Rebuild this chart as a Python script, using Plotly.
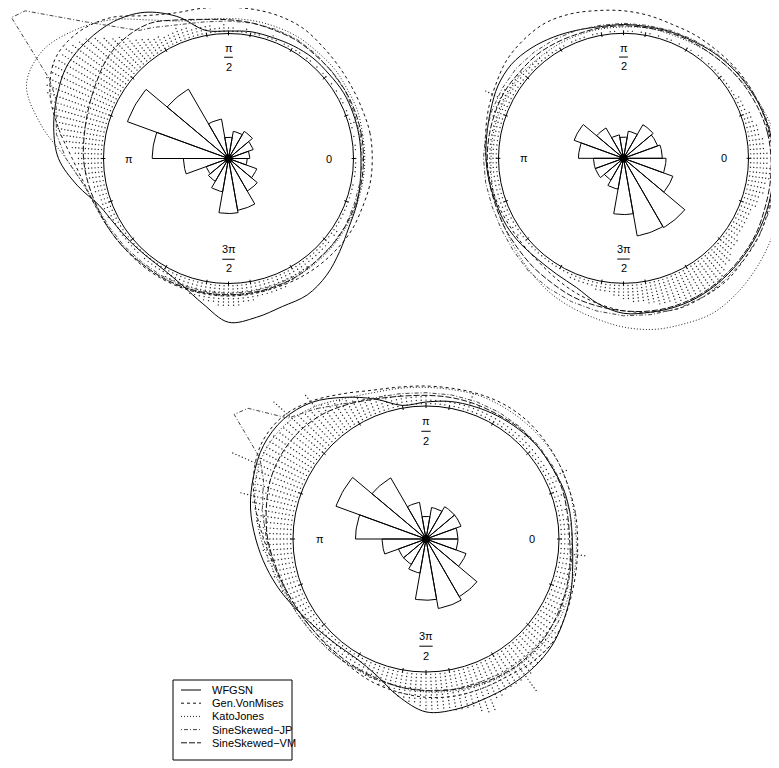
import numpy as np
import plotly.graph_objects as go

W, H = 779, 768
PAGE_OFF = 8   # browser body margin: the figure is drawn 8 px from the page corner
FONT = "Liberation Sans, Arial, Helvetica, sans-serif"

# ---------------- data ----------------
ANG10 = list(range(0, 360, 10))          # density grid (deg)
ANG2 = list(range(0, 360, 2))            # stacked-point bins (deg)
ROSE_START = list(range(0, 360, 20))     # rose bins (deg)
ROSE_W = 20
TICK_DEG = list(range(0, 360, 20)) + [90, 270]
STACK_STEP = 0.026

MODELS = ["WFGSN", "Gen.VonMises", "KatoJones", "SineSkewed\u2212JP", "SineSkewed\u2212VM"]

# ---- panel 1 ----
p1_rose = [0.17, 0.21, 0.25, 0.22, 0.17, 0.32, 0.64, 0.86, 0.61,
           0.36, 0.19, 0.21, 0.27, 0.44, 0.42, 0.30, 0.24, 0.15]
p1_wfgsn = [1.06, 1.06, 1.06, 1.06, 1.05, 1.05, 1.04, 1.03, 1.03, 1.02, 1.04, 1.21,
            1.35, 1.43, 1.47, 1.49, 1.46, 1.42, 1.36, 1.23, 1.10, 1.05, 1.03, 1.02,
            1.03, 1.08, 1.18, 1.31, 1.29, 1.26, 1.26, 1.22, 1.16, 1.11, 1.09, 1.07]
p1_gvm = [1.15, 1.15, 1.14, 1.14, 1.15, 1.17, 1.20, 1.21, 1.21, 1.21, 1.22, 1.24,
          1.32, 1.47, 1.57, 1.60, 1.52, 1.38, 1.25, 1.17, 1.13, 1.11, 1.10, 1.10,
          1.10, 1.10, 1.10, 1.10, 1.10, 1.10, 1.11, 1.12, 1.13, 1.14, 1.14, 1.15]
p1_kj = [1.09, 1.09, 1.10, 1.10, 1.11, 1.11, 1.12, 1.12, 1.12, 1.12, 1.13, 1.17,
         1.28, 1.45, 1.60, 1.72, 1.72, 1.52, 1.30, 1.18, 1.13, 1.11, 1.10, 1.09,
         1.09, 1.09, 1.09, 1.09, 1.09, 1.09, 1.09, 1.09, 1.09, 1.09, 1.09, 1.09]
p1_ssjp_ang = [0, 10, 20, 30, 40, 50, 60, 70, 80, 90, 100, 110, 120, 125, 136, 144, 147,
               156, 161, 172, 180, 190, 200, 210, 220, 230, 240, 250, 260, 270, 280,
               290, 300, 310, 320, 330, 340, 350]
p1_ssjp = [1.07, 1.07, 1.07, 1.08, 1.08, 1.09, 1.10, 1.10, 1.10, 1.10, 1.11, 1.14,
           1.21, 1.25, 1.57, 2.01, 2.07, 1.57, 1.46, 1.39, 1.30, 1.18, 1.12, 1.10,
           1.09, 1.08, 1.08, 1.08, 1.08, 1.08, 1.08, 1.08, 1.08, 1.08, 1.08, 1.08,
           1.07, 1.07]
p1_ssvm = [1.08, 1.08, 1.08, 1.08, 1.08, 1.08, 1.09, 1.09, 1.10, 1.11, 1.13, 1.18,
           1.25, 1.27, 1.26, 1.22, 1.19, 1.17, 1.16, 1.14, 1.12, 1.11, 1.10, 1.09,
           1.09, 1.09, 1.09, 1.09, 1.09, 1.09, 1.09, 1.08, 1.08, 1.08, 1.08, 1.08]
p1_stack = [1, 0, 1, 1, 0, 1, 0, 1, 2, 1,   0, 1, 0, 1, 1, 0, 1, 0, 1, 0,
            1, 1, 0, 1, 0, 1, 1, 0, 1, 1,   0, 1, 1, 0, 1, 2, 1, 0, 1, 1,
            1, 2, 1, 1, 2, 2, 3, 2, 2, 3,   3, 3, 4, 3, 4, 4, 5, 4, 4, 4,
            5, 5, 6, 7, 8, 10, 12, 13, 15, 17,   19, 20, 21, 22, 22, 22, 23, 22, 23, 22,
            21, 19, 18, 17, 16, 15, 14, 12, 10, 9,   8, 8, 7, 6, 5, 4, 4, 4, 3, 3,
            3, 3, 2, 3, 2, 2, 2, 2, 2, 2,   2, 2, 2, 2, 1, 2, 2, 2, 2, 2,
            2, 3, 3, 3, 4, 4, 4, 5, 5, 5,   6, 6, 6, 7, 7, 7, 7, 7, 6, 6,
            6, 5, 5, 5, 5, 5, 5, 5, 4, 4,   3, 3, 3, 3, 2, 2, 2, 2, 2, 2,
            2, 1, 2, 2, 1, 1, 1, 1, 1, 1,   1, 1, 1, 1, 1, 0, 1, 1, 1, 1]

# ---- panel 2 ----
p2_rose = [0.31, 0.29, 0.31, 0.22, 0.17, 0.19, 0.28, 0.42, 0.36,
           0.24, 0.24, 0.20, 0.25, 0.45, 0.63, 0.64, 0.42, 0.34]
p2_wfgsn = [1.20, 1.19, 1.17, 1.15, 1.13, 1.11, 1.09, 1.08, 1.07, 1.07, 1.07, 1.09,
            1.12, 1.15, 1.17, 1.16, 1.13, 1.11, 1.10, 1.09, 1.08, 1.08, 1.07, 1.06,
            1.07, 1.10, 1.18, 1.24, 1.25, 1.26, 1.26, 1.25, 1.24, 1.23, 1.22, 1.21]
p2_gvm = [1.20, 1.18, 1.17, 1.16, 1.15, 1.14, 1.14, 1.14, 1.16, 1.18, 1.20, 1.23,
          1.25, 1.24, 1.22, 1.18, 1.15, 1.12, 1.10, 1.08, 1.07, 1.06, 1.06, 1.07,
          1.10, 1.14, 1.18, 1.22, 1.25, 1.28, 1.28, 1.28, 1.26, 1.25, 1.23, 1.21]
p2_kj = [1.26, 1.22, 1.18, 1.14, 1.11, 1.09, 1.07, 1.06, 1.06, 1.05, 1.05, 1.05,
         1.05, 1.05, 1.06, 1.06, 1.06, 1.06, 1.06, 1.07, 1.08, 1.10, 1.13, 1.17,
         1.22, 1.26, 1.30, 1.35, 1.39, 1.41, 1.43, 1.41, 1.38, 1.35, 1.32, 1.29]
p2_ssjp_ang = list(ANG10)
p2_ssjp = [1.22, 1.20, 1.18, 1.16, 1.14, 1.12, 1.10, 1.09, 1.08, 1.08, 1.08, 1.09,
           1.10, 1.11, 1.12, 1.12, 1.12, 1.12, 1.12, 1.12, 1.12, 1.13, 1.15, 1.18,
           1.20, 1.22, 1.24, 1.26, 1.27, 1.28, 1.28, 1.27, 1.26, 1.25, 1.24, 1.23]
p2_ssvm = [1.18, 1.17, 1.15, 1.13, 1.11, 1.09, 1.08, 1.07, 1.06, 1.06, 1.06, 1.06,
           1.07, 1.08, 1.08, 1.09, 1.09, 1.09, 1.09, 1.09, 1.09, 1.10, 1.11, 1.13,
           1.15, 1.18, 1.20, 1.22, 1.24, 1.25, 1.25, 1.24, 1.23, 1.22, 1.20, 1.19]
p2_stack = [6, 6, 5, 5, 5, 4, 4, 4, 3, 3,   3, 2, 2, 2, 2, 1, 1, 1, 1, 1,
            1, 1, 1, 1, 1, 0, 1, 1, 0, 1,   1, 0, 1, 0, 1, 1, 0, 1, 0, 1,
            1, 1, 0, 1, 1, 1, 0, 1, 1, 0,   1, 1, 1, 0, 1, 1, 1, 1, 0, 1,
            1, 1, 1, 2, 1, 2, 2, 2, 2, 2,   3, 3, 3, 3, 3, 4, 4, 9, 4, 4,
            4, 4, 3, 3, 3, 3, 3, 3, 3, 3,   3, 3, 3, 3, 2, 3, 2, 2, 2, 2,
            2, 2, 2, 2, 2, 1, 2, 1, 2, 1,   1, 1, 1, 1, 1, 1, 1, 1, 1, 1,
            1, 1, 1, 2, 2, 2, 2, 2, 2, 3,   3, 3, 3, 4, 4, 5, 5, 6, 6, 6,
            7, 7, 8, 8, 8, 9, 9, 9, 10, 10,   10, 11, 11, 11, 10, 9, 8, 7, 7, 6,
            5, 5, 5, 4, 4, 4, 4, 4, 4, 4,   5, 5, 5, 6, 6, 6, 7, 7, 7, 6]

# ---- panel 3 ----
p3_rose = [0.24, 0.28, 0.28, 0.24, 0.17, 0.28, 0.53, 0.72, 0.53,
           0.33, 0.22, 0.22, 0.26, 0.46, 0.53, 0.50, 0.32, 0.24]
p3_wfgsn = [1.10, 1.10, 1.10, 1.09, 1.09, 1.08, 1.07, 1.06, 1.05, 1.03, 1.02, 1.12,
            1.23, 1.34, 1.40, 1.41, 1.38, 1.34, 1.28, 1.22, 1.16, 1.10, 1.06, 1.04,
            1.04, 1.09, 1.20, 1.30, 1.30, 1.28, 1.27, 1.26, 1.24, 1.20, 1.16, 1.12]
p3_gvm = [1.14, 1.14, 1.14, 1.15, 1.16, 1.17, 1.17, 1.16, 1.15, 1.15, 1.16, 1.19,
          1.26, 1.35, 1.42, 1.43, 1.38, 1.30, 1.22, 1.16, 1.12, 1.10, 1.09, 1.10,
          1.12, 1.15, 1.17, 1.19, 1.20, 1.20, 1.20, 1.22, 1.23, 1.20, 1.17, 1.15]
p3_kj = [1.13, 1.13, 1.14, 1.15, 1.15, 1.15, 1.15, 1.15, 1.14, 1.14, 1.15, 1.17,
         1.22, 1.30, 1.36, 1.38, 1.36, 1.30, 1.24, 1.18, 1.14, 1.12, 1.11, 1.11,
         1.11, 1.12, 1.13, 1.15, 1.16, 1.17, 1.18, 1.18, 1.18, 1.17, 1.15, 1.14]
p3_ssjp_ang = [0, 10, 20, 30, 40, 50, 60, 70, 80, 90, 100, 110, 120, 130,
               138.8, 143.7, 147, 151.9, 154,
               160, 170, 180, 190, 200, 210, 220, 230, 240, 250, 260, 270, 280, 290,
               300, 310, 320, 330, 340, 350]
p3_ssjp = [1.10, 1.10, 1.10, 1.10, 1.10, 1.10, 1.10, 1.10, 1.10, 1.10, 1.11, 1.13, 1.18, 1.28,
           1.38, 1.66, 1.72, 1.47, 1.39,
           1.30, 1.25, 1.20, 1.16, 1.13, 1.12, 1.11, 1.11, 1.11, 1.12, 1.13, 1.14, 1.15, 1.15,
           1.16, 1.16, 1.16, 1.15, 1.13, 1.11]
p3_ssvm = [1.08, 1.08, 1.09, 1.09, 1.09, 1.09, 1.08, 1.08, 1.08, 1.08, 1.09, 1.12,
           1.17, 1.22, 1.25, 1.26, 1.25, 1.22, 1.19, 1.15, 1.12, 1.10, 1.09, 1.09,
           1.10, 1.11, 1.13, 1.14, 1.15, 1.16, 1.17, 1.17, 1.16, 1.14, 1.12, 1.10]
p3_stack = [4, 5, 3, 3, 3, 2, 3, 2, 2, 3,   2, 2, 3, 7, 2, 2, 2, 2, 2, 2,
            2, 2, 2, 3, 2, 2, 2, 2, 2, 2,   2, 2, 2, 2, 3, 2, 6, 2, 2, 2,
            2, 2, 2, 2, 2, 3, 3, 3, 3, 3,   4, 4, 4, 5, 5, 5, 6, 6, 7, 7,
            8, 9, 9, 10, 11, 16, 12, 12, 13, 21,   14, 14, 14, 15, 15, 15, 15, 15, 23, 14,
            14, 13, 13, 17, 13, 12, 11, 11, 10, 10,   9, 9, 9, 8, 8, 7, 7, 7, 6, 6,
            6, 5, 5, 5, 4, 4, 4, 4, 3, 3,   3, 3, 3, 3, 3, 3, 3, 3, 3, 3,
            4, 4, 4, 5, 5, 5, 6, 6, 6, 7,   8, 8, 9, 9, 10, 11, 11, 11, 11, 11,
            12, 12, 12, 12, 14, 15, 15, 12, 12, 11,   11, 11, 11, 16, 11, 10, 10, 10, 9, 9,
            9, 8, 8, 7, 7, 6, 6, 6, 5, 5,   4, 4, 4, 4, 4, 4, 4, 8, 4, 4]

# ---------------- styles ----------------
STYLE = {
    "WFGSN": dict(dash="solid", color="#000000", shape="spline"),
    "Gen.VonMises": dict(dash="3px,3px", color="#111111", shape="spline"),
    "KatoJones": dict(dash="1px,2px", color="#222222", shape="spline"),
    "SineSkewed\u2212JP": dict(dash="1px,2px,4px,2px", color="#444444", shape="linear"),
    "SineSkewed\u2212VM": dict(dash="6px,2px", color="#111111", shape="spline"),
}

# panel centres / radii in screenshot pixels
PANELS = [
    dict(cx=228.5, cy=158.5, R=125.0, rose=p1_rose, stack=p1_stack,
         curves=[(ANG10, p1_wfgsn), (ANG10, p1_gvm), (ANG10, p1_kj),
                 (p1_ssjp_ang, p1_ssjp), (ANG10, p1_ssvm)]),
    dict(cx=623.5, cy=158.3, R=125.0, rose=p2_rose, stack=p2_stack,
         curves=[(ANG10, p2_wfgsn), (ANG10, p2_gvm), (ANG10, p2_kj),
                 (p2_ssjp_ang, p2_ssjp), (ANG10, p2_ssvm)]),
    dict(cx=426.0, cy=539.0, R=133.0, rose=p3_rose, stack=p3_stack,
         curves=[(ANG10, p3_wfgsn), (ANG10, p3_gvm), (ANG10, p3_kj),
                 (p3_ssjp_ang, p3_ssjp), (ANG10, p3_ssvm)]),
]

fig = go.Figure()
shapes = []
annotations = []
layout_axes = {}

for k, P in enumerate(PANELS, start=1):
    xs = "x" if k == 1 else f"x{k}"
    ys = "y" if k == 1 else f"y{k}"
    xname = "xaxis" if k == 1 else f"xaxis{k}"
    yname = "yaxis" if k == 1 else f"yaxis{k}"
    cx, cy, R = P["cx"] - PAGE_OFF, P["cy"] - PAGE_OFF, P["R"]
    xax = dict(range=[-cx / R, (W - cx) / R], domain=[0, 1], visible=False,
               fixedrange=True, anchor=ys)
    yax = dict(range=[-(H - cy) / R, cy / R], domain=[0, 1], visible=False,
               fixedrange=True, anchor=xs)
    if k > 1:
        xax["overlaying"] = "x"
        yax["overlaying"] = "y"
    layout_axes[xname] = xax
    layout_axes[yname] = yax

    # unit circle
    shapes.append(dict(type="circle", xref=xs, yref=ys, x0=-1, y0=-1, x1=1, y1=1,
                       line=dict(color="black", width=1), layer="above"))

    # ticks
    tx, ty = [], []
    for d in TICK_DEG:
        t = np.radians(d)
        tx += [0.985 * np.cos(t), 1.02 * np.cos(t), None]
        ty += [0.985 * np.sin(t), 1.02 * np.sin(t), None]
    fig.add_trace(go.Scatter(x=tx, y=ty, xaxis=xs, yaxis=ys, mode="lines",
                             line=dict(color="black", width=1), hoverinfo="skip",
                             showlegend=False))

    # stacked points
    px_, py_ = [], []
    for d, c in zip(ANG2, P["stack"]):
        t = np.radians(d)
        for j in range(1, c + 1):
            r = 1 + STACK_STEP * (j - 0.3)
            px_.append(r * np.cos(t))
            py_.append(r * np.sin(t))
    fig.add_trace(go.Scatter(x=px_, y=py_, xaxis=xs, yaxis=ys, mode="markers",
                             marker=dict(size=1.4, color="#222222", line=dict(width=0)),
                             hoverinfo="skip", showlegend=False))

    # density curves
    for name, (angs, rads) in zip(MODELS, P["curves"]):
        a = np.radians(list(angs) + [angs[0] + 360])
        r = np.array(list(rads) + [rads[0]])
        st = STYLE[name]
        fig.add_trace(go.Scatter(x=r * np.cos(a), y=r * np.sin(a), xaxis=xs, yaxis=ys,
                                 mode="lines", name=name,
                                 line=dict(color=st["color"], width=1, dash=st["dash"],
                                           shape=st["shape"], smoothing=1.0),
                                 hoverinfo="skip", showlegend=False))

    # rose diagram
    rx, ry = [], []
    for s, rr in zip(ROSE_START, P["rose"]):
        arc = np.radians(np.linspace(s, s + ROSE_W, 12))
        rx += [0.0] + list(rr * np.cos(arc)) + [0.0, None]
        ry += [0.0] + list(rr * np.sin(arc)) + [0.0, None]
    fig.add_trace(go.Scatter(x=rx, y=ry, xaxis=xs, yaxis=ys, mode="lines",
                             line=dict(color="black", width=1), hoverinfo="skip",
                             showlegend=False))
    fig.add_trace(go.Scatter(x=[0], y=[0], xaxis=xs, yaxis=ys, mode="markers",
                             marker=dict(size=8, color="black"), hoverinfo="skip",
                             showlegend=False))

    # axis labels
    lab = dict(xref=xs, yref=ys, showarrow=False, font=dict(family=FONT, size=11, color="black"),
               xanchor="center", yanchor="middle")
    annotations.append(dict(lab, x=0.80, y=0, text="0"))
    annotations.append(dict(lab, x=-0.80, y=0, text="\u03c0"))
    annotations.append(dict(lab, x=0, y=0.885, text="\u03c0"))
    annotations.append(dict(lab, x=0, y=0.735, text="2"))
    annotations.append(dict(lab, x=0, y=-0.726, text="3\u03c0"))
    annotations.append(dict(lab, x=0, y=-0.878, text="2"))
    shapes.append(dict(type="line", xref=xs, yref=ys, x0=-0.035, x1=0.035, y0=0.81, y1=0.81,
                       line=dict(color="black", width=1)))
    shapes.append(dict(type="line", xref=xs, yref=ys, x0=-0.05, x1=0.05, y0=-0.806, y1=-0.806,
                       line=dict(color="black", width=1)))

# ---------------- legend (drawn manually, screenshot pixel layout) ----------------
def fx(x):
    return (x - PAGE_OFF) / W

def fy(y):
    return 1 - (y - PAGE_OFF) / H

LEG_L, LEG_R, LEG_T, LEG_B = 173, 292, 680, 760
ROW0, ROW_H = 690, 13.2
shapes.append(dict(type="rect", xref="paper", yref="paper", x0=fx(LEG_L), x1=fx(LEG_R),
                   y0=fy(LEG_B), y1=fy(LEG_T), line=dict(color="black", width=1),
                   fillcolor="white", layer="above"))
for i, name in enumerate(MODELS):
    yy = ROW0 + i * ROW_H
    st = STYLE[name]
    shapes.append(dict(type="line", xref="paper", yref="paper", x0=fx(181), x1=fx(201),
                       y0=fy(yy), y1=fy(yy),
                       line=dict(color=st["color"], width=1, dash=st["dash"])))
    annotations.append(dict(xref="paper", yref="paper", x=fx(210), y=fy(yy), text=name,
                            showarrow=False, xanchor="left", yanchor="middle",
                            font=dict(family=FONT, size=11, color="black")))

fig.update_layout(width=W, height=H, autosize=False,
                  margin=dict(l=0, r=0, t=0, b=0, pad=0),
                  paper_bgcolor="white", plot_bgcolor="rgba(0,0,0,0)",
                  showlegend=False, shapes=shapes, annotations=annotations,
                  **layout_axes)

fig.write_html("out.html")
